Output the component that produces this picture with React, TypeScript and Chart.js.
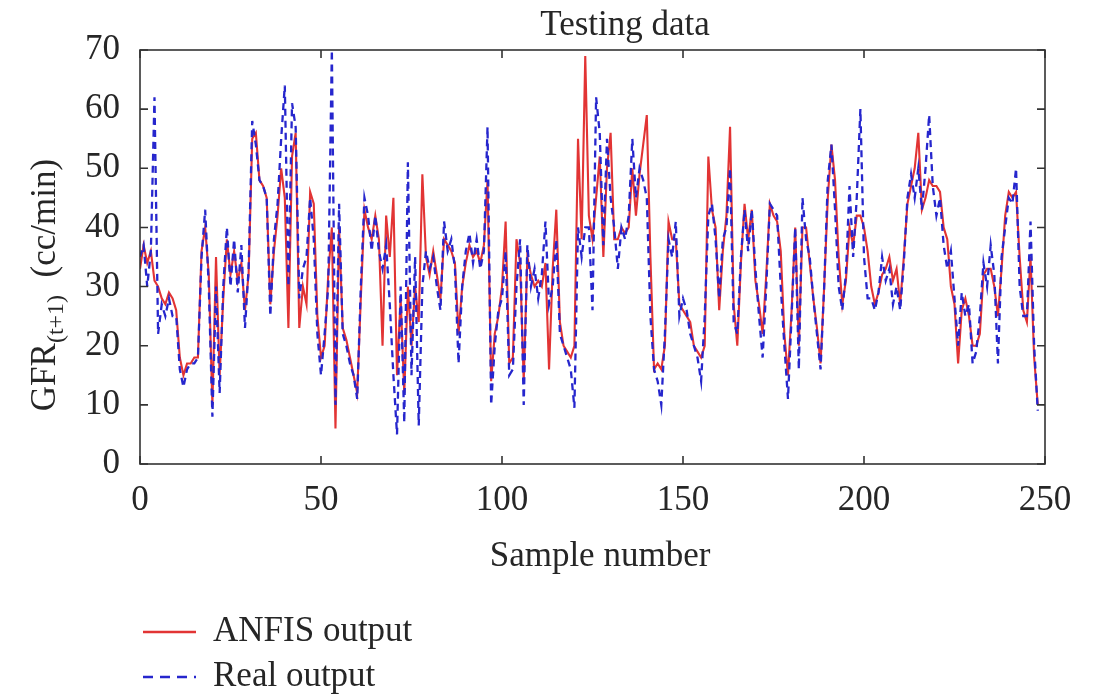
import React, { useEffect, useRef } from "react";
import { Chart, registerables } from "chart.js";

Chart.register(...registerables);

const chartTitle = "Testing data";
const xAxisTitle = "Sample number";
const yAxisMain = "GFR";
const yAxisSub = "(t+1)";
const yAxisUnit = "(cc/min)";
const legendLabels = ["ANFIS output", "Real output"];

const xTickValues = [0, 50, 100, 150, 200, 250];
const yTickValues = [0, 10, 20, 30, 40, 50, 60, 70];

const anfisOutput = [
  33, 37, 34, 36, 31, 30, 28, 27, 29, 28,
  26, 18, 15, 17, 17, 18, 18, 36, 40, 32,
  10, 35, 15, 28, 38, 32, 36, 31, 34, 26,
  32, 55, 56, 48, 47, 45, 27, 36, 42, 50,
  45, 23, 52, 56, 23, 30, 27, 46, 44, 25,
  18, 20, 32, 40, 6, 40, 23, 21, 18, 15,
  12, 28, 43, 40, 38, 42, 38, 20, 42, 35,
  45, 15, 28, 12, 30, 20, 30, 24, 49, 35,
  32, 36, 32, 28, 38, 37, 36, 34, 22, 30,
  34, 37, 35, 36, 34, 37, 48, 14, 22, 25,
  30, 41, 17, 18, 38, 34, 14, 35, 32, 30,
  31, 30, 34, 16, 33, 43, 24, 20, 19, 18,
  20, 55, 38, 69, 42, 38, 45, 52, 35, 50,
  56, 38, 38, 40, 39, 40, 50, 42, 49, 54,
  59, 35, 16, 17, 16, 20, 41, 38, 38, 27,
  26, 25, 24, 20, 19, 18, 20, 52, 43, 40,
  26, 36, 42, 57, 27, 20, 34, 44, 38, 43,
  31, 27, 22, 32, 44, 42, 41, 36, 22, 15,
  26, 40, 20, 40, 40, 34, 28, 23, 17, 30,
  45, 54, 48, 35, 27, 31, 40, 37, 42, 42,
  40, 36, 30, 27, 29, 32, 33, 35, 31, 33,
  27, 35, 44, 47, 50, 56, 43, 45, 48, 47,
  47, 46, 40, 38, 30, 27, 17, 26, 28, 25,
  20, 20, 22, 32, 33, 33, 30, 25, 33, 42,
  46, 45, 46, 35, 26, 24, 35, 18, 10,
];

const realOutput = [
  35, 37, 30, 36, 62, 22, 27, 25, 28, 25,
  25, 16, 13, 16, 17, 17, 18, 35, 43, 30,
  8, 30, 12, 30, 40, 30, 38, 29, 37, 23,
  33, 58, 54, 48, 47, 45, 25, 38, 44, 55,
  64, 30, 61, 57, 28, 33, 35, 45, 38, 22,
  15, 22, 30, 70, 10, 44, 22, 20, 17, 15,
  11, 30, 45, 42, 36, 42, 36, 33, 37, 27,
  15, 5, 30, 7, 51, 15, 35, 6.5, 30, 36,
  33, 35, 30, 26, 41, 36, 38, 33, 17, 30,
  36, 39, 34, 38, 33, 36, 57, 10, 20, 26,
  28, 36, 15, 16, 30, 38, 10, 37, 30, 33,
  28, 32, 41, 27, 30, 38, 22, 20, 18, 16,
  9.5, 40, 35, 40, 40, 26, 62, 56, 37, 55,
  45, 40, 33, 40, 38, 42, 55, 45, 50, 48,
  45, 25, 16, 14, 10, 22, 38, 35, 41, 25,
  28, 26, 22, 20, 18, 14, 25, 42, 44, 38,
  28, 38, 40, 50, 24, 22, 35, 43, 36, 43,
  33, 25, 18, 30, 44, 43, 42, 30, 20, 11,
  25, 40, 16, 45, 38, 35, 28, 22, 16, 30,
  48, 54, 43, 30, 26, 32, 47, 35, 45, 60,
  35, 28, 28, 26, 29, 35, 31, 33, 27, 30,
  26, 34, 45, 49, 45, 50, 43, 50, 59, 47,
  42, 45, 37, 33, 36, 28, 20, 29, 25, 27,
  17, 19, 25, 34, 30, 37, 32, 17, 35, 40,
  45, 44, 50, 30, 25, 25, 41, 20, 9,
];

const RED = "rgb(226, 52, 52)";
const BLUE = "rgb(38, 38, 205)";
const INK = "#262626";
const SERIF = '"Liberation Serif", "DejaVu Serif", serif';
const TEXT_SIZE = 35;

const decorPlugin = {
  id: "decor",
  afterDraw(chart: any) {
    const { ctx, chartArea, scales } = chart;
    const { left, right, top, bottom } = chartArea;
    const x = scales.x;
    const y = scales.y;
    ctx.save();
    // frame
    ctx.strokeStyle = "#333";
    ctx.lineWidth = 1.6;
    ctx.setLineDash([]);
    ctx.strokeRect(left, top, right - left, bottom - top);
    // inward ticks
    const tl = 8;
    ctx.beginPath();
    for (const v of xTickValues) {
      const px = x.getPixelForValue(v);
      ctx.moveTo(px, bottom);
      ctx.lineTo(px, bottom - tl);
      ctx.moveTo(px, top);
      ctx.lineTo(px, top + tl);
    }
    for (const v of yTickValues) {
      const py = y.getPixelForValue(v);
      ctx.moveTo(left, py);
      ctx.lineTo(left + tl, py);
      ctx.moveTo(right, py);
      ctx.lineTo(right - tl, py);
    }
    ctx.stroke();

    ctx.fillStyle = INK;
    ctx.textAlign = "center";
    ctx.textBaseline = "middle";
    ctx.font = `${TEXT_SIZE}px ${SERIF}`;
    ctx.fillText(chartTitle, 625, 26);
    ctx.fillText(xAxisTitle, 600, 557);

    // y axis title with subscript
    ctx.save();
    ctx.translate(44, 285);
    ctx.rotate(-Math.PI / 2);
    ctx.textAlign = "left";
    ctx.textBaseline = "alphabetic";
    const mainFont = `${TEXT_SIZE}px ${SERIF}`;
    const subFont = `24px ${SERIF}`;
    ctx.font = mainFont;
    const w1 = ctx.measureText(yAxisMain).width;
    const w3 = ctx.measureText("  " + yAxisUnit).width;
    ctx.font = subFont;
    const w2 = ctx.measureText(yAxisSub).width;
    const total = w1 + w2 + w3;
    let cx = -total / 2;
    const base = 11;
    ctx.font = mainFont;
    ctx.fillText(yAxisMain, cx, base);
    cx += w1;
    ctx.font = subFont;
    ctx.fillText(yAxisSub, cx, base + 8);
    cx += w2;
    ctx.font = mainFont;
    ctx.fillText("  " + yAxisUnit, cx, base);
    ctx.restore();

    // legend
    const legendY = [632, 677];
    const legendColors = [RED, BLUE];
    const legendDash = [[], [10, 7]];
    for (let i = 0; i < legendLabels.length; i++) {
      ctx.strokeStyle = legendColors[i];
      ctx.lineWidth = 2.4;
      ctx.setLineDash(legendDash[i]);
      ctx.beginPath();
      ctx.moveTo(143, legendY[i]);
      ctx.lineTo(196, legendY[i]);
      ctx.stroke();
      ctx.setLineDash([]);
      ctx.fillStyle = INK;
      ctx.textAlign = "left";
      ctx.textBaseline = "middle";
      ctx.font = `${TEXT_SIZE}px ${SERIF}`;
      ctx.fillText(legendLabels[i], 213, legendY[i]);
    }
    ctx.restore();
  },
};

export default function App() {
  const canvasRef = useRef<HTMLCanvasElement | null>(null);

  useEffect(() => {
    const canvas = canvasRef.current;
    if (!canvas) return;
    const chart = new Chart(canvas, {
      type: "line",
      data: {
        datasets: [
          {
            label: legendLabels[1],
            data: realOutput.map((v, i) => ({ x: i, y: v })),
            borderColor: BLUE,
            borderWidth: 2.3,
            borderDash: [7, 5],
            pointRadius: 0,
            tension: 0,
            fill: false,
            order: 0,
          },
          {
            label: legendLabels[0],
            data: anfisOutput.map((v, i) => ({ x: i, y: v })),
            borderColor: RED,
            borderWidth: 2.1,
            pointRadius: 0,
            tension: 0,
            fill: false,
            order: 1,
          },
        ],
      },
      options: {
        responsive: false,
        animation: false,
        devicePixelRatio: 1,
        layout: { padding: { left: 0, top: 50, right: 49, bottom: 0 } },
        plugins: {
          legend: { display: false },
          title: { display: false },
          tooltip: { enabled: false },
        },
        scales: {
          x: {
            type: "linear",
            min: 0,
            max: 250,
            grid: { display: false },
            border: { display: false },
            ticks: {
              stepSize: 50,
              padding: 8,
              color: INK,
              font: { family: SERIF, size: TEXT_SIZE },
              maxRotation: 0,
            },
            afterFit: (scale: any) => {
              scale.height = 230;
            },
          },
          y: {
            type: "linear",
            min: 0,
            max: 70,
            grid: { display: false },
            border: { display: false },
            ticks: {
              stepSize: 10,
              padding: 12,
              color: INK,
              font: { family: SERIF, size: TEXT_SIZE },
            },
            afterFit: (scale: any) => {
              scale.width = 140;
            },
          },
        },
      },
      plugins: [decorPlugin],
    });
    return () => chart.destroy();
  }, []);

  return (
    <div style={{ position: "absolute", left: 0, top: 0, width: 1094, height: 694, background: "#fff" }}>
      <canvas ref={canvasRef} width={1094} height={694} style={{ display: "block", width: 1094, height: 694 }} />
    </div>
  );
}
